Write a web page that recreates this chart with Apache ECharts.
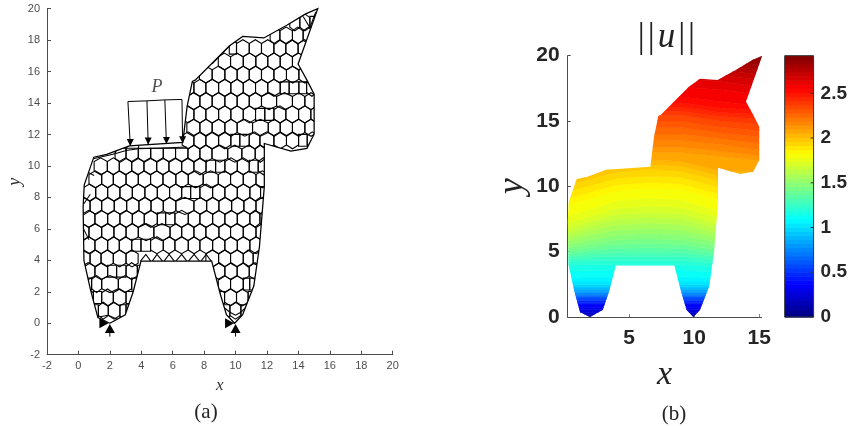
<!DOCTYPE html>
<html><head><meta charset="utf-8">
<style>html,body{margin:0;padding:0;background:#fff}#c{width:850px;height:426px}</style>
<script src="https://cdn.jsdelivr.net/npm/echarts@6/dist/echarts.min.js"></script>
</head><body><div id="c"></div>
<script>
// Horse outline (x, y)
const outline = [[2,0],[1.24,.36],[.78,2.07],[.35,4],[.3,7.4],[.37,8.8],[.98,10.56],[1.8,10.74],[3.24,11.28],[6.64,11.5],[6.92,13.8],[7.25,15.38],[7.43,15.46],[9.6,17.63],[10.45,18.24],[11.8,18.14],[13.26,18.95],[14.46,19.67],[15.23,20],[13.98,16.48],[14.54,15.46],[15,14.57],[15,12.02],[14.54,11.12],[13.52,10.94],[11.83,11.43],[11.83,8.7],[11.52,4.87],[11.16,2.37],[10.45,.54],[9.94,0],[9.42,.54],[9.04,1.81],[8.48,3.95],[3.98,3.95],[3.49,2.02],[2.98,.54]];

// Mesh rows: row centre y, x of the cell walls, optional flat top of the cells
const meshRowY = [19.13,18.29,17.49,16.64,15.81,14.97,14.12,13.28,12.43,11.63,10.78,10.78,9.98,9.15,8.31,7.46,6.64,5.79,4.96,4.12,4.12,3.31,3.31,2.49,2.49,1.64,1.64,.8,.8];
const meshRowFlatTop = {10:11.13};
const meshRowWalls = [
 [13.45,14.09,14.73,15.3],
 [12.2,12.82,13.62,14.3,15],
 [9.6,10.06,10.87,11.65,12.44,13.2,13.98,14.8],
 [8.9,9.68,10.49,11.29,12.05,12.84,13.62,14.4],
 [7.7,8.51,9.32,10.1,10.87,11.65,12.44,13.24,14.03,14.8],
 [6.6,7.35,8.11,8.92,9.7,10.49,11.27,12.05,12.84,13.41,14.03,14.52,15.2],
 [6.9,7.73,8.51,9.32,10.1,10.87,11.65,12.61,13.62,14.41,15.2],
 [6.6,7.35,8.11,8.92,9.7,10.49,11.27,11.86,12.44,13.2,14.01,14.79,15.5],
 [6.9,7.73,8.51,9.32,10.1,11.08,12.08,12.84,13.62,14.41,15.2],
 [6.6,7.35,8.11,8.92,9.7,10.27,10.87,11.55,12.44,13.24,14.01,14.56,15.2],
 [2.33,3.03,3.81,4.6,5.4,6.18,6.97],
 [6.97,7.73,8.5,9.5,10.4,11.25,11.9],
 [1,1.84,2.6,3.39,4.17,4.98,5.76,6.57,7.35,8.12,8.73,9.32,10.11,10.87,11.44,12.1],
 [.67,1.48,2.22,3.03,3.81,4.59,5.38,6.2,6.99,7.94,8.9,9.68,10.49,11.3,12.1],
 [.31,1.1,1.86,2.64,3.43,4.23,5.02,5.8,6.57,7.14,7.73,8.54,9.32,10.11,10.91,11.59,12.2],
 [0,.74,1.48,2.28,3.07,3.85,4.62,5.4,6.2,7.35,8.16,8.94,9.75,10.53,11.3,12.1],
 [.25,1.05,1.86,2.64,3.43,4.19,5.02,5.55,6.14,6.99,7.73,8.54,9.32,10.11,10.91,11.55,12.2],
 [-.1,.67,1.48,2.26,3.03,3.81,4.8,5.83,6.57,7.35,8.11,8.94,9.68,10.49,11.3,12.1],
 [.25,1.05,1.86,2.6,3.39,3.98,4.59,5.4,6.14,6.99,7.73,8.54,9.32,10.11,10.91,11.7],
 [-.1,.74,1.44,2.22,3.03,3.8],
 [8.11,8.92,9.68,10.49,11.12,12],
 [.2,1.05,1.86,2.43,3.03,3.75,4.2],
 [8.6,9.32,10.1,10.87,11.6],
 [.3,.84,1.48,2.54,3.39,4],
 [8.9,9.68,10.49,10.9,11.5],
 [.3,.95,1.48,2.22,3.03,3.6],
 [9,9.3,10.06,10.8,11.3],
 [.7,1.27,1.9,2.64,3.03,3.5],
 [9.1,9.64,10.34,10.9]
];
// Loose mesh edges near the boundary and above the notch
const extraEdges = [
 [[.95,10.46],[2.33,10.78],[3.03,10.99],[3.81,11.1],[5.4,11.14],[6.89,11.2]],
 [[2.33,10.78],[2.45,11.1]],[[3.03,10.99],[3.1,11.25]],[[3.81,11.1],[3.85,11.32]],
 [[8.51,16.49],[9.32,17.34],[9.85,17.87]],
 [[3.95,3.95],[4.29,4.38],[4.6,3.95]],[[4.7,3.95],[5,4.38],[5.35,3.95]],[[5.45,3.95],[5.77,4.38],[6.1,3.95]],[[6.2,3.95],[6.57,4.38],[6.9,3.95]],[[7,3.95],[7.36,4.38],[7.7,3.95]],[[7.8,3.95],[8.13,4.38],[8.45,3.95]],
 [[1.37,.41],[1.9,.51],[2.47,.26],[3.03,.51]],
 [[9.2,1.05],[9.64,.7],[10,.51],[10.34,.7],[10.7,1.05]],
 [[14.3,19.5],[14.73,18.8],[15.1,19.8]],
 [[.33,6],[.67,5.3]],[[.35,7.6],[.75,8.2]],[[.6,9.6],[1,9.4]]
];

// Distributed load P: top and tip of each arrow
const loadTopX = [3.15,4.36,5.5,6.59];
const loadTopY = [14.1,14.14,14.2,14.23];
const loadTipX = [3.3,4.44,5.6,6.63];
const loadTipY = [11.27,11.37,11.4,11.45];
// Supports
const supportUp = [[2,-.33],[10,-.33]];
const supportRight = [[1.62,0],[9.62,0]];
const stemUp = [[[2,-.6],[2,-.85]],[[10,-.6],[10,-.85]]];
const pLabelAt = [5,15];

const xTicksRight = [5,10,15];
const barTicks = [0,.5,1,1.5,2,2.5];
const barMax = 2.92;
const jetT = [0,.125,.375,.625,.875,1];
const jetRGB = [[0,0,.5],[0,0,1],[0,1,1],[1,1,0],[1,0,0],[.5,0,0]];
const bandCount = 64;

// Displacement contours: y of each colour level at these x stations
const stationX = [.2,2,4,6.5,9,12,15.4];
const contourY = [
 [-.5,-.5,-.5,-.5,-.5,-.5,-.5],
 [-.1,-.1,-.1,-.1,-.1,-.1,-.1],
 [0,0,0,0,0,0,0],
 [.08,.08,.08,.08,.08,.08,.08],
 [.18,.18,.18,.18,.18,.18,.18],
 [.35,.35,.35,.35,.35,.35,.35],
 [.55,.55,.55,.55,.55,.55,.55],
 [.72,.72,.72,.72,.72,.72,.72],
 [.92,.92,.92,.92,.92,.92,.92],
 [1.02,1.02,1.02,1.02,1.02,1.02,1.02],
 [1.13,1.13,1.13,1.13,1.13,1.13,1.13],
 [1.24,1.24,1.24,1.24,1.24,1.24,1.24],
 [1.35,1.35,1.35,1.35,1.35,1.35,1.35],
 [1.45,1.45,1.45,1.45,1.45,1.45,1.45],
 [1.56,1.56,1.56,1.56,1.56,1.56,1.56],
 [1.66,1.66,1.66,1.66,1.66,1.66,1.66],
 [1.75,1.75,1.75,1.75,1.75,1.75,1.75],
 [1.86,1.86,1.86,1.86,1.86,1.86,1.86],
 [1.98,1.98,1.98,1.98,1.98,1.98,1.98],
 [2.1,2.1,2.1,2.1,2.1,2.1,2.1],
 [2.22,2.22,2.22,2.22,2.22,2.22,2.22],
 [2.35,2.35,2.35,2.35,2.35,2.35,2.35],
 [2.5,2.5,2.5,2.5,2.5,2.5,2.5],
 [2.75,2.75,2.75,2.75,2.75,2.75,2.75],
 [3,3.08,3.08,3.1,3.1,3,3],
 [3.5,3.55,3.6,3.6,3.6,3.4,3.4],
 [3.95,4,4,4,4,3.8,3.8],
 [4.2,4.3,4.35,4.35,4.35,4.1,4.1],
 [4.4,4.55,4.65,4.65,4.65,4.35,4.35],
 [4.6,4.8,4.95,4.95,4.95,4.6,4.6],
 [4.8,5.05,5.25,5.3,5.25,4.85,4.85],
 [5,5.3,5.55,5.65,5.55,5.1,5.1],
 [5.25,5.6,5.9,6,5.9,5.4,5.4],
 [5.5,5.9,6.25,6.4,6.3,5.7,5.7],
 [5.8,6.25,6.65,6.8,6.7,6.05,6.05],
 [6.1,6.6,7.05,7.2,7.1,6.4,6.4],
 [6.4,6.95,7.45,7.6,7.5,6.75,6.75],
 [6.75,7.3,7.85,8,7.9,7.1,7.1],
 [7.15,7.7,8.3,8.5,8.4,7.55,7.55],
 [7.7,8.25,8.9,9.1,9,8.1,8.1],
 [8.55,9.05,9.65,9.85,9.75,8.95,8.95],
 [9.05,9.55,10.1,10.3,10.2,9.4,9.4],
 [9.6,10.05,10.6,10.8,10.7,9.9,9.6],
 [10.15,10.55,11.1,11.3,11.15,10.4,10],
 [10.6,11,11.5,11.7,11.55,10.8,10.6],
 [11,11.4,11.85,12.05,11.9,11.2,11.1],
 [11.4,11.8,12.3,12.6,12.6,12.3,11.9],
 [11.8,12.2,12.7,13,13,12.7,12.3],
 [12.3,12.7,13.2,13.5,13.5,13.2,12.75],
 [12.8,13.2,13.7,14,14,13.65,13.25],
 [13.3,13.7,14.2,14.5,14.5,14.1,13.75],
 [13.8,14.2,14.7,15,15,14.55,14.25],
 [14.2,14.6,15.1,15.45,15.45,15,14.75],
 [14.6,15,15.4,15.75,15.75,15.35,15.15],
 [15,15.4,15.7,16.05,16.05,15.65,15.5],
 [15.4,15.7,16,16.35,16.4,16,15.8],
 [15.8,16.1,16.4,16.7,16.85,16.5,16.1],
 [16.3,16.6,16.9,17.2,17.6,17.4,17],
 [16.8,17.1,17.4,17.7,18.3,18,17.6],
 [17.3,17.6,17.9,18.2,18.8,18.5,18.1],
 [17.8,18.1,18.4,18.6,19.1,18.9,18.5],
 [18.2,18.5,18.8,19,19.4,19.2,18.9],
 [18.6,18.9,19.2,19.4,19.6,19.5,19.3],
 [19,19.3,19.6,19.8,19.9,19.8,19.7],
 [20.5,20.5,20.5,20.5,20.5,20.5,20.5]
];

function jet(t){
  let k=0; while(k<jetT.length-2 && t>jetT[k+1]) k++;
  const f=(t-jetT[k])/(jetT[k+1]-jetT[k]);
  const c=jetRGB[k].map((a,j)=>Math.round(255*(a+(jetRGB[k+1][j]-a)*f)));
  return 'rgb('+c.join(',')+')';
}

const wallH=.3, apexH=.24, rectH=.38;
const cellData=[];
meshRowWalls.forEach((w,r)=>{
  for(let i=0;i<w.length-1;i++){
    const ft=meshRowFlatTop[r];
    cellData.push([w[i],w[i+1],meshRowY[r],ft==null?0:ft]);
  }
});

function clipFor(api){
  return {type:'polygon',shape:{points:outline.map(p=>api.coord(p))}};
}
function renderCell(params,api){
  const a=api.value(0),b=api.value(1),y=api.value(2),ft=api.value(3),m=(a+b)/2;
  let pts;
  if(b-a<=.62) pts=[[a,y-rectH],[b,y-rectH],[b,y+rectH],[a,y+rectH]];
  else if(ft) pts=[[a,y-wallH],[m,y-wallH-apexH],[b,y-wallH],[b,ft],[a,ft]];
  else pts=[[a,y-wallH],[m,y-wallH-apexH],[b,y-wallH],[b,y+wallH],[m,y+wallH+apexH],[a,y+wallH]];
  return {type:'polygon',shape:{points:pts.map(p=>api.coord(p))},
    style:{fill:'none',stroke:'#000',lineWidth:1.1},clipPath:clipFor(api),silent:true};
}
function polylineSeries(lines,xi,width,clip){
  return {type:'custom',xAxisIndex:xi,yAxisIndex:xi,silent:true,z:4,
    data:lines.map((l,i)=>[i,0]),
    renderItem(p,api){
      const l=lines[api.value(0)];
      const el={type:'polyline',shape:{points:l.map(q=>api.coord(q))},style:{fill:'none',stroke:'#000',lineWidth:width}};
      if(clip) el.clipPath=clipFor(api);
      return el;
    }};
}
function renderBand(p,api){
  const i=api.value(0);
  const low=contourY[i],high=contourY[i+1];
  const pts=stationX.map((x,k)=>api.coord([x,low[k]])).concat(stationX.map((x,k)=>api.coord([x,high[k]])).reverse());
  const col=jet((i+.5)/bandCount);
  return {type:'polygon',shape:{points:pts},style:{fill:col,stroke:col,lineWidth:.6},clipPath:clipFor(api),silent:true};
}
function renderBarCell(p,api){
  const i=api.value(0);
  const a=api.coord([0,(i+1)*barMax/bandCount]),b=api.coord([1,i*barMax/bandCount]);
  const col=jet((i+.5)/bandCount);
  return {type:'rect',shape:{x:a[0],y:a[1],width:b[0]-a[0],height:b[1]-a[1]+.6},style:{fill:col},silent:true};
}

const arrowShafts=loadTopX.map((x,i)=>[[x,loadTopY[i]],[loadTipX[i],loadTipY[i]]]);
const arrowTop=[loadTopX.map((x,i)=>[x,loadTopY[i]])];

const serif='"Liberation Serif","DejaVu Serif",serif';
const sans='"Liberation Sans",Arial,sans-serif';
const thin={color:'#4d4d4d',width:1};
const chart=echarts.init(document.getElementById('c'),null,{renderer:'canvas'});
const bandIdx=[];for(let i=0;i<bandCount;i++)bandIdx.push([i,0]);
chart.setOption({
  animation:false,backgroundColor:'#fff',
  title:[
    {text:'(a)',left:201,top:397,textAlign:'center',textStyle:{fontFamily:serif,fontSize:21,fontWeight:'normal',color:'#222'}},
    {text:'(b)',left:669,top:399,textAlign:'center',textStyle:{fontFamily:serif,fontSize:21,fontWeight:'normal',color:'#222'}},
    {text:'{n|\u200A|\u200A|\u200A}{i|u}{n|\u200A|\u200A|}',left:660,top:15,textAlign:'center',textStyle:{rich:{
       n:{fontFamily:serif,fontSize:35,fontWeight:'normal',color:'#222'},
       i:{fontFamily:serif,fontSize:35,fontStyle:'italic',fontWeight:'normal',color:'#222'}}}}
  ],
  grid:[
    {left:47,top:8.7,width:345.7,height:346},
    {left:567.7,top:55.7,width:193.9,height:261.3},
    {left:784.7,top:55.7,width:29,height:261.3}
  ],
  xAxis:[
    {gridIndex:0,type:'value',min:-2,max:20,interval:2,
     axisLine:{lineStyle:thin,onZero:false},axisTick:{inside:true,length:4,lineStyle:thin},splitLine:{show:false},
     axisLabel:{fontFamily:sans,fontSize:11,color:'#4d4d4d',margin:6},
     name:'x',nameLocation:'middle',nameGap:22,nameTextStyle:{fontFamily:serif,fontStyle:'italic',fontSize:17,color:'#333'}},
    {gridIndex:1,type:'value',min:.29,max:15.18,
     axisLine:{lineStyle:thin,onZero:false},axisTick:{inside:true,length:3,lineStyle:{color:'#888'},customValues:xTicksRight},splitLine:{show:false},
     axisLabel:{fontFamily:sans,fontSize:21,fontWeight:'bold',color:'#262626',margin:11,customValues:xTicksRight},
     name:'x',nameLocation:'middle',nameGap:41,nameTextStyle:{fontFamily:serif,fontStyle:'italic',fontSize:34,color:'#222'}},
    {gridIndex:2,type:'value',min:0,max:1,show:false}
  ],
  yAxis:[
    {gridIndex:0,type:'value',min:-2,max:20,interval:2,
     axisLine:{lineStyle:thin,onZero:false},axisTick:{inside:true,length:4,lineStyle:thin},splitLine:{show:false},
     axisLabel:{fontFamily:sans,fontSize:11,color:'#4d4d4d',margin:7},
     name:'y',nameLocation:'middle',nameGap:22,nameTextStyle:{fontFamily:serif,fontStyle:'italic',fontSize:18,color:'#333'}},
    {gridIndex:1,type:'value',min:0,max:20,interval:5,
     axisLine:{lineStyle:thin,onZero:false},axisTick:{inside:true,length:3,lineStyle:thin},splitLine:{show:false},
     axisLabel:{fontFamily:sans,fontSize:21,fontWeight:'bold',color:'#262626',margin:8},
     name:'y',nameLocation:'middle',nameGap:37,nameTextStyle:{fontFamily:serif,fontStyle:'italic',fontSize:36,color:'#222'}},
    {gridIndex:2,type:'value',position:'right',min:0,max:barMax,
     axisLine:{show:false},axisTick:{show:false},splitLine:{show:false},
     axisLabel:{fontFamily:sans,fontSize:19,fontWeight:'bold',color:'#262626',margin:7,customValues:barTicks}}
  ],
  series:[
    {type:'custom',xAxisIndex:0,yAxisIndex:0,silent:true,z:3,data:cellData,renderItem:renderCell},
    polylineSeries(extraEdges,0,1.05,true),
    polylineSeries([outline.concat([outline[0]])],0,1.25,false),
    polylineSeries(arrowShafts,0,1,false),
    polylineSeries(arrowTop,0,1,false),
    polylineSeries(stemUp,0,1,false),
    {type:'scatter',xAxisIndex:0,yAxisIndex:0,silent:true,z:5,symbol:'triangle',symbolSize:[7,7],symbolRotate:180,itemStyle:{color:'#000',opacity:1},
     data:loadTipX.map((x,i)=>[x,loadTipY[i]+.22])},
    {type:'scatter',xAxisIndex:0,yAxisIndex:0,silent:true,z:5,symbol:'triangle',symbolSize:[10,9],itemStyle:{color:'#000',opacity:1},data:supportUp},
    {type:'scatter',xAxisIndex:0,yAxisIndex:0,silent:true,z:5,symbol:'triangle',symbolSize:[10,9],symbolRotate:-90,itemStyle:{color:'#000',opacity:1},data:supportRight},
    {type:'scatter',xAxisIndex:0,yAxisIndex:0,silent:true,z:5,symbolSize:0,data:[pLabelAt],
     label:{show:true,position:'inside',formatter:'P',fontFamily:serif,fontStyle:'italic',fontSize:18,color:'#222'}},
    {type:'custom',xAxisIndex:1,yAxisIndex:1,silent:true,z:3,data:bandIdx,renderItem:renderBand},
    {type:'custom',xAxisIndex:2,yAxisIndex:2,silent:true,z:3,data:bandIdx,renderItem:renderBarCell},
    {type:'custom',xAxisIndex:2,yAxisIndex:2,silent:true,z:4,data:[[0,0]],renderItem(p,api){
      const a=api.coord([0,barMax]),b=api.coord([1,0]);
      return {type:'rect',shape:{x:a[0],y:a[1],width:b[0]-a[0],height:b[1]-a[1]},style:{fill:'none',stroke:'#333',lineWidth:1}};
    }},
    {type:'custom',xAxisIndex:2,yAxisIndex:2,silent:true,z:4,data:barTicks.map(v=>[v]),renderItem(p,api){
      const v=api.value(0),a=api.coord([1,v]);
      return {type:'line',shape:{x1:a[0]-3,y1:a[1],x2:a[0],y2:a[1]},style:{stroke:'#333',lineWidth:1}};
    }}
  ]
});
</script></body></html>
